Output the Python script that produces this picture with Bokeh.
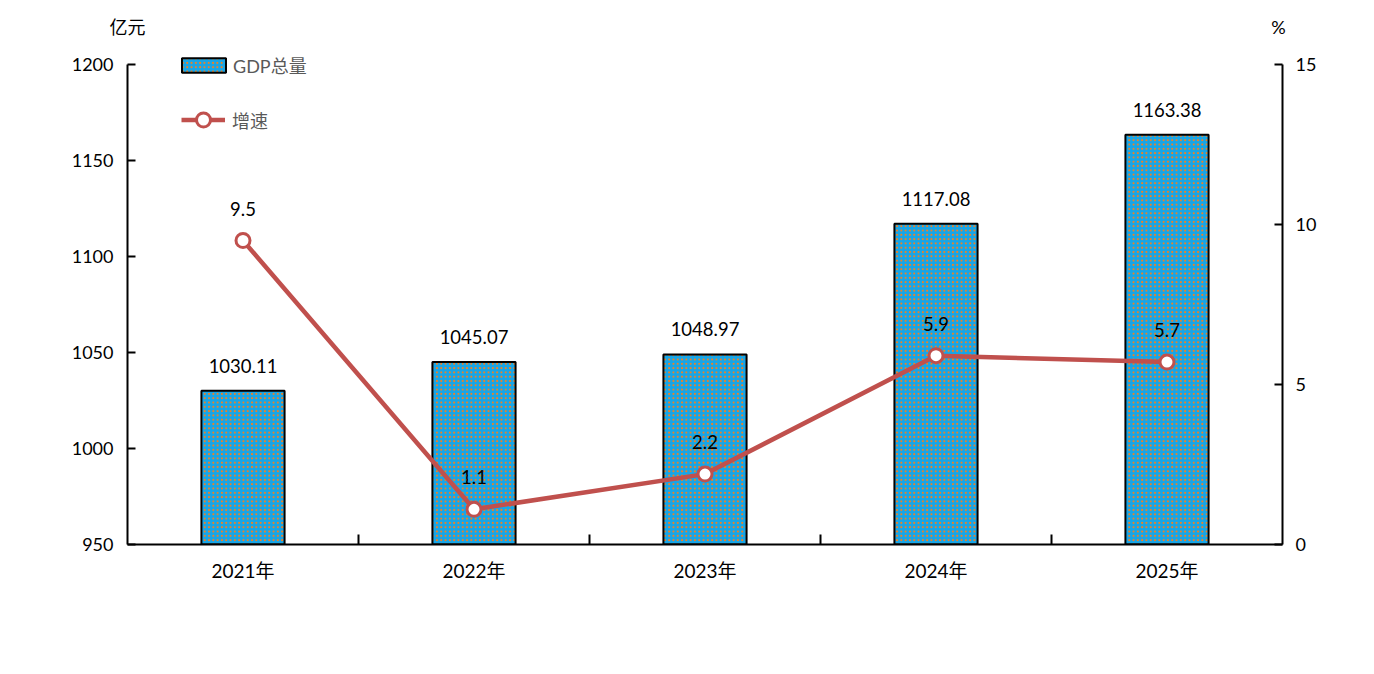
from bokeh.plotting import figure
from bokeh.models import (ColumnDataSource, Range1d, LinearAxis, FixedTicker,
                          Legend, LegendItem, LabelSet)
from bokeh.core.properties import value
from bokeh.embed import file_html
from bokeh.resources import INLINE

years = ["2021年", "2022年", "2023年", "2024年", "2025年"]
gdp = [1030.11, 1045.07, 1048.97, 1117.08, 1163.38]
growth = [9.5, 1.1, 2.2, 5.9, 5.7]
gdp_labels = ["1030.11", "1045.07", "1048.97", "1117.08", "1163.38"]
growth_labels = ["9.5", "1.1", "2.2", "5.9", "5.7"]
left_ticks = [950, 1000, 1050, 1100, 1150, 1200]
right_ticks = [0, 5, 10, 15]
unit_left = "亿元"
unit_right = "%"

FONT = "Lato, 'Noto Sans CJK SC', sans-serif"
FS_TICK = "18px"
FS_LAB = "18.5px"
FS_CAT = "19px"

# frame: 127..1282 x, 42..544 y ; 1200 / 15 sit at y=64
EXT = 22 / 480  # fraction of axis span above the top tick
xs = list(range(len(years)))
src = ColumnDataSource(dict(x=xs, gdp=gdp, growth=growth,
                            gl=gdp_labels, rl=growth_labels))

p = figure(width=1366, height=666, output_backend="svg", toolbar_location=None,
           x_range=Range1d(-0.5, 4.5),
           y_range=Range1d(950, 1200 + 250 * EXT),
           min_border_left=127, min_border_right=84, min_border_top=42,
           min_border_bottom=122)
p.outline_line_color = None
p.grid.visible = False
p.background_fill_color = "white"
p.border_fill_color = "white"
p.extra_y_ranges = {"pct": Range1d(0, 15 + 15 * EXT)}

bars = p.vbar(x="x", top="gdp", bottom=950, width=0.36, source=src,
              fill_color="#14A6EA", line_color="black", line_width=2,
              hatch_pattern=".", hatch_color="#F5801E", hatch_scale=4.3,
              hatch_weight=2.4)

line = p.line(x="x", y="growth", source=src, y_range_name="pct",
              line_color="#C0504D", line_width=4.5)
pts = p.scatter(x="x", y="growth", source=src, y_range_name="pct", size=14,
                fill_color="white", line_color="#C0504D", line_width=3)

p.add_layout(LabelSet(x="x", y="gdp", text="gl", source=src, y_offset=18,
                      text_align="center", text_baseline="bottom",
                      text_font=value(FONT), text_font_size=value(FS_LAB),
                      text_color="black"))
p.add_layout(LabelSet(x="x", y="growth", text="rl", source=src,
                      y_range_name="pct", y_offset=25,
                      text_align="center", text_baseline="bottom",
                      text_font=value(FONT), text_font_size=value(FS_LAB),
                      text_color="black"))

# bottom axis
xa = p.xaxis[0]
xa.ticker = FixedTicker(ticks=xs, minor_ticks=[0.5, 1.5, 2.5, 3.5])
xa.major_label_overrides = {i: y for i, y in enumerate(years)}
xa.major_tick_line_color = None
xa.minor_tick_in = 10
xa.minor_tick_out = 0
xa.minor_tick_line_width = 2
xa.axis_line_width = 2
xa.axis_line_color = "black"
xa.major_label_text_font = FONT
xa.major_label_text_font_size = FS_CAT
xa.major_label_text_color = "black"
xa.major_label_standoff = 8

# left axis
ya = p.yaxis[0]
ya.ticker = FixedTicker(ticks=left_ticks, minor_ticks=[])
ya.bounds = (950, 1200)
ya.major_tick_in = 8
ya.major_tick_out = 0
ya.major_tick_line_width = 2
ya.axis_line_width = 2
ya.axis_line_color = "black"
ya.major_label_text_font = FONT
ya.major_label_text_font_size = FS_TICK
ya.major_label_text_color = "black"
ya.major_label_standoff = 14

# right axis
ra = LinearAxis(y_range_name="pct", ticker=FixedTicker(ticks=right_ticks, minor_ticks=[]))
ra.bounds = (0, 15)
ra.major_tick_in = 8
ra.major_tick_out = 0
ra.major_tick_line_width = 2
ra.axis_line_width = 2
ra.axis_line_color = "black"
ra.major_label_text_font = FONT
ra.major_label_text_font_size = FS_TICK
ra.major_label_text_color = "black"
ra.major_label_standoff = 13
p.add_layout(ra, "right")

# unit titles as labels of an invisible top axis
ta = LinearAxis(ticker=FixedTicker(ticks=[-0.5, 4.483], minor_ticks=[]))
ta.major_label_overrides = {-0.5: unit_left, 4.483: unit_right}
ta.axis_line_color = None
ta.major_tick_line_color = None
ta.minor_tick_line_color = None
ta.major_tick_in = 0
ta.major_tick_out = 0
ta.major_label_standoff = 5
ta.major_label_text_font = FONT
ta.major_label_text_font_size = FS_TICK
ta.major_label_text_color = "black"
p.add_layout(ta, "above")

leg1 = Legend(items=[LegendItem(label="GDP总量", renderers=[bars])],
              location=(49, 466), glyph_width=55, glyph_height=18,
              label_standoff=2, padding=0, margin=0,
              border_line_color=None, background_fill_alpha=0,
              label_text_font=FONT, label_text_font_size="18px",
              label_text_color="#595959")
leg2 = Legend(items=[LegendItem(label="增速", renderers=[line, pts])],
              location=(54, 407), glyph_width=44, glyph_height=35,
              label_standoff=7, padding=0, margin=0,
              border_line_color=None, background_fill_alpha=0,
              label_text_font=FONT, label_text_font_size="18px",
              label_text_color="#595959")
p.add_layout(leg1, "center")
p.add_layout(leg2, "center")

open("out.html", "w").write(file_html(p, INLINE))
